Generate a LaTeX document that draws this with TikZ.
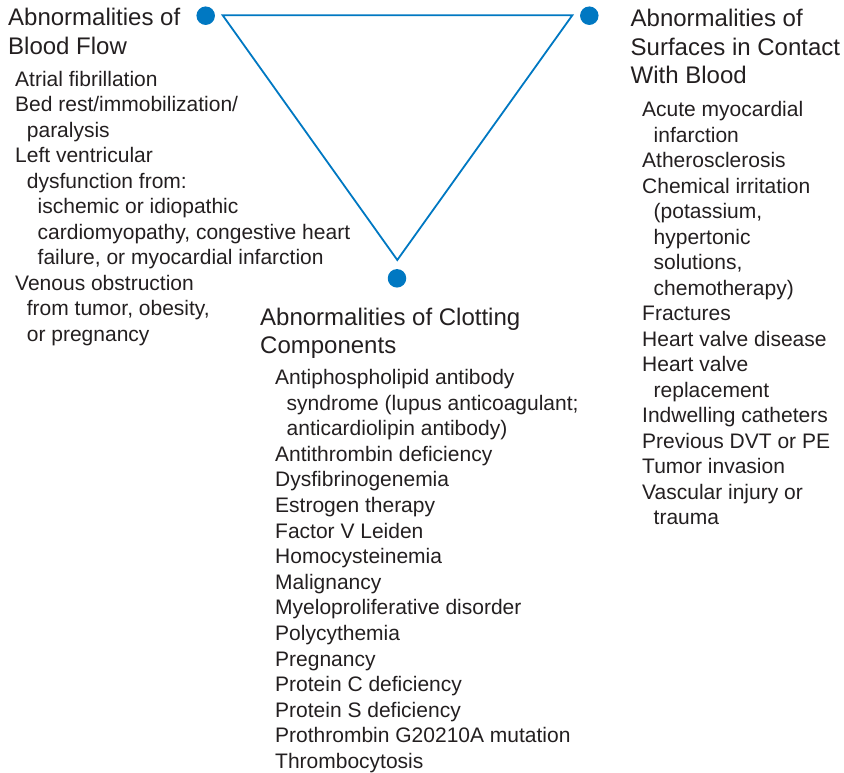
\documentclass[tikz,border=0pt]{standalone}
\usepackage{fontspec}
\setmainfont{Liberation Sans}
\definecolor{triblue}{RGB}{0,120,194}
\definecolor{txt}{RGB}{35,31,32}
\begin{document}
\begin{tikzpicture}[x=1pt,y=-1pt,
  titletext/.style={anchor=base west,inner sep=0pt,text=txt,font=\fontsize{24}{28}\selectfont},
  itemtext/.style={anchor=base west,inner sep=0pt,text=txt,font=\fontsize{21}{25}\selectfont},
  dot/.style={circle,fill=triblue,minimum size=18.5pt,inner sep=0pt},
  tri/.style={draw=triblue,line width=1.8pt,line join=miter}]
\useasboundingbox (0,0) rectangle (844,772);
% triangle
\coordinate (tl) at (222.7,15.3);
\coordinate (tr) at (572.3,15.3);
\coordinate (bt) at (397.3,260);
\draw[tri] (tl) -- (tr) -- (bt) -- cycle;
\node[dot] (dl) at (205.7,15.7) {};
\node[dot] (dr) at (589.3,15.7) {};
\node[dot] (db) at (397,278.3) {};
% titles
\node[titletext] (tl1) at (8,25.7) {Abnormalities of};
\node[titletext] (tl2) at (8,54.3) {Blood Flow};
\node[titletext] (tr1) at (630.5,26.5) {Abnormalities of};
\node[titletext] (tr2) at (630.5,55) {Surfaces in Contact};
\node[titletext] (tr3) at (630.5,83.3) {With Blood};
\node[titletext] (tb1) at (260,325) {Abnormalities of Clotting};
\node[titletext] (tb2) at (260,353.3) {Components};
% left list
\foreach \x/\t [count=\i from 0] in {
  15/{Atrial fibrillation},
  15/{Bed rest/immobilization/},
  26.7/{paralysis},
  15/{Left ventricular},
  26.7/{dysfunction from:},
  37.5/{ischemic or idiopathic},
  37.5/{cardiomyopathy, congestive heart},
  37.5/{failure, or myocardial infarction},
  15/{Venous obstruction},
  26.7/{from tumor, obesity,},
  26.7/{or pregnancy}}
  \node[itemtext] (la\i) at (\x,86+25.5*\i) {\t};
% right list
\foreach \x/\t [count=\i from 0] in {
  642/{Acute myocardial},
  653.5/{infarction},
  642/{Atherosclerosis},
  642/{Chemical irritation},
  653.5/{(potassium,},
  653.5/{hypertonic},
  653.5/{solutions,},
  653.5/{chemotherapy)},
  642/{Fractures},
  642/{Heart valve disease},
  642/{Heart valve},
  653.5/{replacement},
  642/{Indwelling catheters},
  642/{Previous DVT or PE},
  642/{Tumor invasion},
  642/{Vascular injury or},
  653.5/{trauma}}
  \node[itemtext] (ra\i) at (\x,116.5+25.53*\i) {\t};
% bottom list
\foreach \x/\t [count=\i from 0] in {
  275/{Antiphospholipid antibody},
  286.5/{syndrome (lupus anticoagulant;},
  286.5/{anticardiolipin antibody)},
  275/{Antithrombin deficiency},
  275/{Dysfibrinogenemia},
  275/{Estrogen therapy},
  275/{Factor V Leiden},
  275/{Homocysteinemia},
  275/{Malignancy},
  275/{Myeloproliferative disorder},
  275/{Polycythemia},
  275/{Pregnancy},
  275/{Protein C deficiency},
  275/{Protein S deficiency},
  275/{Prothrombin G20210A mutation},
  275/{Thrombocytosis}}
  \node[itemtext] (ba\i) at (\x,384.5+25.6*\i) {\t};
\end{tikzpicture}
\end{document}
